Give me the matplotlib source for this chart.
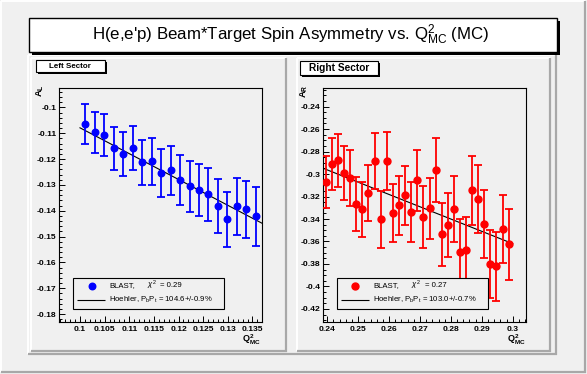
import matplotlib
matplotlib.use('Agg')
import matplotlib.pyplot as plt
from matplotlib.patches import Rectangle
from matplotlib.lines import Line2D
from matplotlib.ticker import MultipleLocator, AutoMinorLocator, FormatStrFormatter

# ---------------- data ----------------
left_q2 = [0.10108, 0.10311, 0.10494, 0.10697, 0.10880, 0.11083, 0.11266, 0.11469,
           0.11652, 0.11855, 0.12038, 0.12241, 0.12424, 0.12606, 0.12809, 0.12992,
           0.13195, 0.13378, 0.13581]
left_asym = [-0.10658, -0.10968, -0.11084, -0.11587, -0.11819, -0.11587, -0.12129, -0.12090,
             -0.12555, -0.12439, -0.12826, -0.13058, -0.13213, -0.13368, -0.13832, -0.14335,
             -0.13832, -0.13948, -0.14219]
left_err = [0.00774, 0.00794, 0.00813, 0.00832, 0.00852, 0.00852, 0.00884, 0.00903,
            0.00929, 0.00948, 0.00968, 0.00987, 0.01006, 0.01026, 0.01045, 0.01065,
            0.01103, 0.01103, 0.01142]
left_fit_q2 = [0.1000, 0.1370]
left_fit_asym = [-0.1079, -0.1449]

right_q2 = [0.23957, 0.24151, 0.24356, 0.24550, 0.24745, 0.24939, 0.25133, 0.25327,
            0.25543, 0.25737, 0.25932, 0.26137, 0.26331, 0.26525, 0.26719, 0.26914,
            0.27108, 0.27313, 0.27507, 0.27701, 0.27917, 0.28111, 0.28306, 0.28500,
            0.28694, 0.28888, 0.29083, 0.29277, 0.29471, 0.29687, 0.29892]
right_asym = [-0.30732, -0.29130, -0.28775, -0.29931, -0.30376, -0.32689, -0.33134, -0.31711,
              -0.28864, -0.34024, -0.28864, -0.33490, -0.32778, -0.31889, -0.33401, -0.30554,
              -0.33846, -0.33045, -0.29664, -0.35358, -0.34557, -0.33134, -0.36960, -0.36782,
              -0.31444, -0.32244, -0.34469, -0.38027, -0.38205, -0.34913, -0.36248]
right_err = [0.02298, 0.02313, 0.02358, 0.02402, 0.02491, 0.02402, 0.02461, 0.02491,
             0.02491, 0.02536, 0.02580, 0.02580, 0.02625, 0.02625, 0.02669, 0.02714,
             0.02758, 0.02714, 0.02847, 0.02802, 0.02847, 0.02936, 0.02936, 0.02936,
             0.03069, 0.03025, 0.03025, 0.03025, 0.03069, 0.03025, 0.03158]
right_fit_q2 = [0.2387, 0.3000]
right_fit_asym = [-0.2949, -0.3619]

title = r"H(e,e'p) Beam*Target Spin Asymmetry vs. Q$^{2}_{\mathrm{MC}}$ (MC)"
left_label = "Left Sector"
right_label = "Right Sector"
left_chi2 = "= 0.29"
right_chi2 = "= 0.27"
left_pbpt = r"Hoehler, P$_{\mathrm{b}}$P$_{\mathrm{t}}$ = 104.6+/-0.9%"
right_pbpt = r"Hoehler, P$_{\mathrm{b}}$P$_{\mathrm{t}}$ = 103.0+/-0.7%"

# ---------------- style ----------------
plt.rcParams['font.family'] = ['Liberation Sans', 'DejaVu Sans']
plt.rcParams['mathtext.fontset'] = 'custom'
plt.rcParams['mathtext.rm'] = 'Liberation Sans'
plt.rcParams['mathtext.it'] = 'Liberation Sans:italic'
plt.rcParams['mathtext.bf'] = 'Liberation Sans:bold'

W, H = 587, 374
BG = '#f0f0f0'
GRAY = '#a8a8a8'
fig = plt.figure(figsize=(W / 100, H / 100), dpi=100)
fig.patch.set_facecolor(BG)


def fx(x):
    return x / W


def fy(y):
    return 1 - y / H


def line(xs, ys, color, lw, z=1):
    fig.add_artist(Line2D([fx(v) for v in xs], [fy(v) for v in ys],
                          transform=fig.transFigure, color=color, lw=lw, zorder=z,
                          solid_capstyle='butt'))


def rect(x0, y0, x1, y1, fc, ec='none', lw=0.0, z=1):
    fig.add_artist(Rectangle((fx(x0), fy(y1)), (x1 - x0) / W, (y1 - y0) / H,
                             transform=fig.transFigure, facecolor=fc, edgecolor=ec,
                             lw=lw, zorder=z))


def pad(x0, y0, x1, y1):
    line([x0, x1], [y0, y0], 'white', 1.4)
    line([x0, x0], [y0, y1], 'white', 1.4)
    line([x1, x1], [y0, y1 + 1], GRAY, 1.6)
    line([x0, x1 + 1], [y1, y1], GRAY, 1.6)


# canvas and pads
pad(1, 1, 585, 372)
pad(28, 55, 556, 354)
pad(31, 58, 286, 351)
pad(297, 58, 550, 351)

# title box
rect(32, 21, 560, 55, 'black')
rect(29, 18, 557, 52, 'white', 'black', 1.0, z=2)
fig.text(fx(291), fy(35), title, ha='center', va='center', fontsize=12.2, zorder=3)

# sector label boxes
rect(38, 62, 107, 74, 'black')
rect(36, 60, 105, 72, 'white', 'black', 0.8, z=2)
fig.text(fx(70), fy(66), left_label, ha='center', va='center', fontsize=5.8,
         fontweight='bold', zorder=3)
rect(302, 63, 380, 77, 'black')
rect(300, 61, 378, 75, 'white', 'black', 0.8, z=2)
fig.text(fx(339), fy(68), right_label, ha='center', va='center', fontsize=7.3,
         fontweight='bold', zorder=3)


def make_axes(x0, y0, x1, y1):
    ax = fig.add_axes([fx(x0), fy(y1), (x1 - x0) / W, (y1 - y0) / H])
    ax.set_facecolor(BG)
    for s in ax.spines.values():
        s.set_linewidth(0.8)
        s.set_color('black')
    ax.tick_params(which='both', direction='in', top=False, right=False,
                   labelsize=6.1, width=0.7, colors='black')
    ax.tick_params(which='major', length=4)
    ax.tick_params(which='minor', length=2.2)
    ax.tick_params(axis='y', pad=2)
    ax.tick_params(axis='x', pad=2.6)
    return ax


def finish(ax):
    for lab in ax.get_xticklabels() + ax.get_yticklabels():
        lab.set_fontweight('bold')


# ---------------- left panel ----------------
axL = make_axes(59.3, 88.3, 262.3, 322.3)
axL.errorbar(left_q2, left_asym, yerr=left_err, fmt='o', color='#0000ff', ms=4.7,
             elinewidth=1.3, capsize=2.8, capthick=1.3, zorder=3)
axL.plot(left_fit_q2, left_fit_asym, color='black', lw=0.8, zorder=2)
axL.set_xlim(0.0958, 0.1370)
axL.set_ylim(-0.1832, -0.0926)
axL.xaxis.set_major_locator(MultipleLocator(0.005))
axL.xaxis.set_minor_locator(AutoMinorLocator(5))
axL.yaxis.set_major_locator(MultipleLocator(0.01))
axL.yaxis.set_minor_locator(AutoMinorLocator(5))
axL.xaxis.set_major_formatter(FormatStrFormatter('%g'))
axL.yaxis.set_major_formatter(FormatStrFormatter('%g'))
finish(axL)

# ---------------- right panel ----------------
axR = make_axes(323.3, 88.3, 526.3, 322.3)
axR.errorbar(right_q2, right_asym, yerr=right_err, fmt='o', color='#ff0000', ms=5.0,
             elinewidth=1.3, capsize=2.8, capthick=1.3, zorder=3)
axR.plot(right_fit_q2, right_fit_asym, color='black', lw=0.8, zorder=2)
axR.set_xlim(0.2387, 0.3044)
axR.set_ylim(-0.4319, -0.2237)
axR.xaxis.set_major_locator(MultipleLocator(0.01))
axR.xaxis.set_minor_locator(AutoMinorLocator(5))
axR.yaxis.set_major_locator(MultipleLocator(0.02))
axR.yaxis.set_minor_locator(AutoMinorLocator(4))
axR.xaxis.set_major_formatter(FormatStrFormatter('%g'))
axR.yaxis.set_major_formatter(FormatStrFormatter('%g'))
finish(axR)

# axis titles
fig.text(fx(40.5), fy(84), r"$\mathbf{A_{L}}$", rotation=90, ha='center', va='top', fontsize=6.8)
fig.text(fx(304), fy(84), r"$\mathbf{A_{R}}$", rotation=90, ha='center', va='top', fontsize=6.8)
fig.text(fx(261), fy(332.5), r"$\mathbf{Q^{2}_{MC}}$", ha='right', va='top', fontsize=6.5)
fig.text(fx(526), fy(332.5), r"$\mathbf{Q^{2}_{MC}}$", ha='right', va='top', fontsize=6.5)


# ---------------- legends ----------------
def legend(x0, y0, x1, y1, mx, tx, chix, eqx, color, ms, chi2, pbpt):
    rect(x0, y0, x1, y1, BG, 'black', 0.8, z=4)
    fig.add_artist(Line2D([fx(mx)], [fy(285.7)], transform=fig.transFigure, marker='o',
                          ms=ms, color=color, ls='none', zorder=5))
    line([x0 + 4.5, x0 + 32], [300, 300], 'black', 0.8, z=5)
    fig.text(fx(tx), fy(285.7), "BLAST,", ha='left', va='center', fontsize=5.6, zorder=5)
    fig.text(fx(chix), fy(285.7), r"$\chi^{2}$", ha='left', va='center', fontsize=5.6, zorder=5)
    fig.text(fx(eqx), fy(285.7), chi2, ha='left', va='center', fontsize=5.6, zorder=5)
    fig.text(fx(tx), fy(300), pbpt, ha='left', va='center', fontsize=5.6, zorder=5)


legend(72.5, 278, 224.3, 309, 91.7, 109.3, 147.3, 160, '#0000ff', 4.7, left_chi2, left_pbpt)
legend(336.7, 278, 488.3, 309, 355, 373, 411, 425, '#ff0000', 5.0, right_chi2, right_pbpt)

fig.savefig('out.png', dpi=100, facecolor=BG)
